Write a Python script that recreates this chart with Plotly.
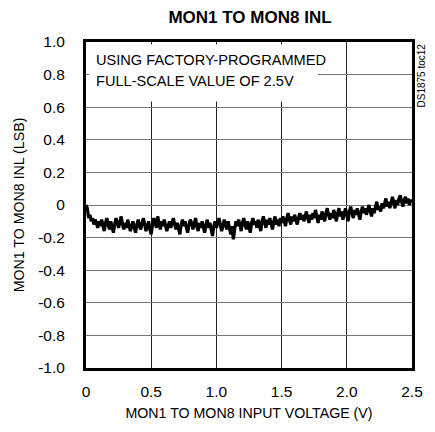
import plotly.graph_objects as go

# Input voltage samples (V), 0.00 .. 2.50 in 0.01 V steps
v_start, v_step, n_pts = 0.0, 0.01, 251
voltage = [round(v_start + i * v_step, 2) for i in range(n_pts)]

# INL (LSB)
inl = [
    0.00, -0.02, -0.08, -0.06, -0.10, -0.08, -0.12, -0.09, -0.11, -0.14,
    -0.10, -0.13, -0.09, -0.12, -0.16, -0.11, -0.08, -0.12, -0.15, -0.10,
    -0.13, -0.17, -0.12, -0.08, -0.11, -0.14, -0.10, -0.07, -0.12, -0.15,
    -0.11, -0.14, -0.09, -0.12, -0.16, -0.13, -0.10, -0.14, -0.17, -0.12,
    -0.09, -0.13, -0.15, -0.11, -0.08, -0.12, -0.16, -0.13, -0.10, -0.15,
    -0.18, -0.12, -0.08, -0.11, -0.14, -0.07, -0.11, -0.15, -0.10, -0.13,
    -0.09, -0.12, -0.16, -0.13, -0.10, -0.14, -0.11, -0.08, -0.12, -0.15,
    -0.11, -0.14, -0.18, -0.12, -0.09, -0.13, -0.10, -0.14, -0.17, -0.12,
    -0.09, -0.11, -0.15, -0.12, -0.08, -0.13, -0.16, -0.11, -0.14, -0.10,
    -0.13, -0.17, -0.12, -0.09, -0.14, -0.11, -0.15, -0.19, -0.13, -0.10,
    -0.14, -0.11, -0.08, -0.12, -0.16, -0.13, -0.09, -0.12, -0.15, -0.10,
    -0.14, -0.18, -0.13, -0.21, -0.15, -0.10, -0.13, -0.09, -0.12, -0.16,
    -0.11, -0.08, -0.12, -0.15, -0.10, -0.13, -0.17, -0.11, -0.08, -0.12,
    -0.10, -0.14, -0.09, -0.12, -0.16, -0.10, -0.07, -0.11, -0.14, -0.09,
    -0.12, -0.08, -0.11, -0.15, -0.10, -0.07, -0.12, -0.09, -0.13, -0.08,
    -0.11, -0.07, -0.10, -0.13, -0.08, -0.05, -0.09, -0.12, -0.07, -0.10,
    -0.06, -0.09, -0.12, -0.08, -0.05, -0.09, -0.06, -0.10, -0.07, -0.04,
    -0.08, -0.11, -0.06, -0.09, -0.05, -0.08, -0.03, -0.07, -0.11, -0.06,
    -0.09, -0.04, -0.07, -0.10, -0.05, -0.02, -0.06, -0.09, -0.05, -0.08,
    -0.03, -0.06, -0.10, -0.05, -0.02, -0.07, -0.04, -0.09, -0.05, -0.02,
    -0.06, -0.10, -0.04, -0.01, -0.05, -0.08, -0.03, -0.06, -0.02, -0.05,
    -0.09, -0.04, -0.01, -0.05, -0.02, -0.06, -0.03, 0.00, -0.04, -0.07,
    -0.02, -0.05, -0.01, 0.02, -0.03, -0.01, -0.04, 0.01, -0.02, 0.02,
    0.04, -0.01, 0.02, -0.02, 0.01, 0.05, 0.01, -0.02, 0.03, 0.00,
    0.04, 0.06, 0.02, -0.01, 0.03, 0.05, 0.01, 0.04, 0.00, 0.03,
    0.02,
]

x_tickvals = [0, 0.5, 1.0, 1.5, 2.0, 2.5]
x_ticktext = ["0", "0.5", "1.0", "1.5", "2.0", "2.5"]
y_tickvals = [1.0, 0.8, 0.6, 0.4, 0.2, 0, -0.2, -0.4, -0.6, -0.8, -1.0]
y_ticktext = ["1.0", "0.8", "0.6", "0.4", "0.2", "0", "-0.2", "-0.4", "-0.6", "-0.8", "-1.0"]

note_lines = ["USING FACTORY-PROGRAMMED", "FULL-SCALE VALUE OF 2.5V"]

FONT = "Liberation Sans Narrow, Arial Narrow, Liberation Sans, Arial, sans-serif"

fig = go.Figure()
fig.add_trace(go.Scatter(
    x=voltage, y=inl, mode="lines",
    line=dict(color="black", width=3.2),
    showlegend=False, hoverinfo="skip",
))

fig.update_layout(
    width=435, height=432,
    margin=dict(l=86, r=21, t=42, b=62),
    paper_bgcolor="white", plot_bgcolor="white",
    font=dict(family=FONT, size=15, color="black"),
    title=dict(text="<b>MON1 TO MON8 INL</b>", x=250 / 435, xanchor="center",
               y=1 - 17 / 432, yanchor="middle",
               font=dict(family=FONT, size=17, color="black")),
    xaxis=dict(
        range=[0, 2.5], tickvals=x_tickvals, ticktext=x_ticktext,
        showgrid=True, gridcolor="#222", gridwidth=1, zeroline=False,
        showline=True, mirror=True, linecolor="black", linewidth=3,
        ticks="", ticklabelstandoff=7,
        title=dict(text="MON1 TO MON8 INPUT VOLTAGE (V)", standoff=10,
                   font=dict(size=14.2)),
        tickfont=dict(size=15.5),
    ),
    yaxis=dict(
        range=[-1.0, 1.0], tickvals=y_tickvals, ticktext=y_ticktext,
        showgrid=True, gridcolor="#777", gridwidth=1, zeroline=False,
        showline=True, mirror=True, linecolor="black", linewidth=3,
        ticks="", ticklabelstandoff=15,
        title=dict(text="MON1 TO MON8 INL (LSB)", standoff=11,
                   font=dict(size=14.2)),
        tickfont=dict(size=15.5),
    ),
)

# white box behind the note (hides grid)
fig.add_shape(type="rect", xref="x", yref="y", x0=0.025, x1=1.78, y0=0.635, y1=0.985,
              fillcolor="white", line=dict(width=0), layer="between")

for line_txt, yv in zip(note_lines, [0.89, 0.762]):
    fig.add_annotation(
        xref="x", yref="y", x=0.06, y=yv, xanchor="left", yanchor="middle",
        text=line_txt, showarrow=False, align="left",
        font=dict(family=FONT, size=14.6, color="black"),
    )

fig.add_annotation(
    xref="paper", yref="paper", x=1.0, y=1.0, xanchor="left", yanchor="top",
    xshift=1, text="DS1875 toc12", textangle=-90, showarrow=False,
    font=dict(family=FONT, size=10, color="black"),
)

fig.write_html("out.html")
